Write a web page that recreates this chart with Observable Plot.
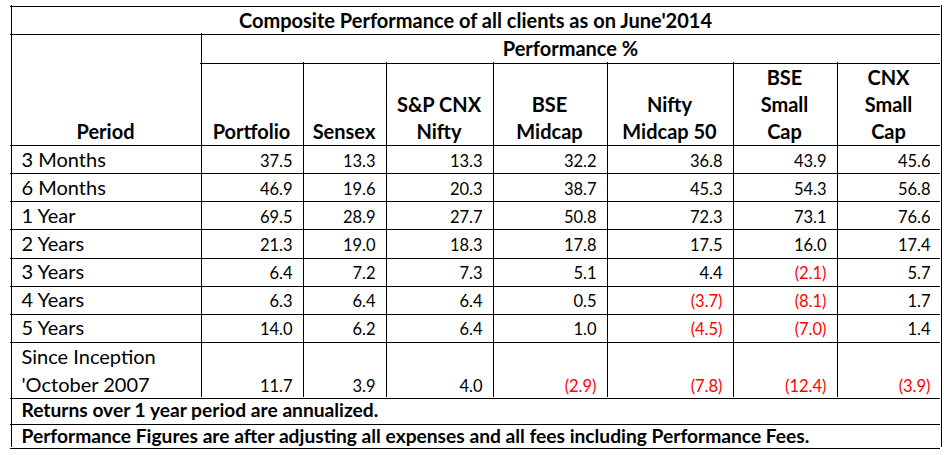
<!DOCTYPE html>
<html><head><meta charset="utf-8">
<script src="https://cdn.jsdelivr.net/npm/d3@7"></script>
<script src="https://cdn.jsdelivr.net/npm/@observablehq/plot@0.6"></script>
<style>body{margin:0;background:#fff}</style>
</head><body><div id="chart"></div>
<script>
// ---------- data ----------
const title = "Composite Performance of all clients as on June'2014";
const groupLabel = "Performance %";
const periodHeader = "Period";
const periods = ["3 Months", "6 Months", "1 Year", "2 Years", "3 Years", "4 Years", "5 Years", "Since Inception\n'October 2007"];
const seriesNames = ["Portfolio", "Sensex", "S&P CNX\nNifty", "BSE\nMidcap", "Nifty\nMidcap 50", "BSE\nSmall\nCap", "CNX\nSmall\nCap"];
const portfolio     = [37.5, 46.9, 69.5, 21.3, 6.4, 6.3, 14.0, 11.7];
const sensex        = [13.3, 19.6, 28.9, 19.0, 7.2, 6.4, 6.2, 3.9];
const cnxNifty      = [13.3, 20.3, 27.7, 18.3, 7.3, 6.4, 6.4, 4.0];
const bseMidcap     = [32.2, 38.7, 50.8, 17.8, 5.1, 0.5, 1.0, -2.9];
const niftyMidcap50 = [36.8, 45.3, 72.3, 17.5, 4.4, -3.7, -4.5, -7.8];
const bseSmallCap   = [43.9, 54.3, 73.1, 16.0, -2.1, -8.1, -7.0, -12.4];
const cnxSmallCap   = [45.6, 56.8, 76.6, 17.4, 5.7, 1.7, 1.4, -3.9];
const notes = ["Returns over 1 year period are annualized.",
               "Performance Figures are after adjusting all expenses and all fees including Performance Fees."];

// ---------- layout ----------
const FONT = "Lato";
const FS_LABEL = 20, FS_NUM = 16.5, FS_NOTE = 19.2;
const colEdges = [10, 200, 302, 385, 492, 606, 732, 836, 940];
const topY = 5, titleB = 33, groupB = 62, headB = 144, rowH = 28.14, lastRowB = 397, note1B = 423, note2B = 447;
const series = [portfolio, sensex, cnxNifty, bseMidcap, niftyMidcap50, bseSmallCap, cnxSmallCap];
const rowBottom = i => i < periods.length - 1 ? headB + rowH * (i + 1) : lastRowB;
const px = v => Math.round(v) + 0.5;

// build tables
const cells = [];
series.forEach((vals, c) => vals.forEach((v, r) => cells.push({c, r, v})));
const periodRows = periods.map((p, r) => ({p, r}));
const headers = seriesNames.map((s, c) => ({s, c}));

// grid lines
const hLines = [];
[topY, titleB, headB].forEach(y => hLines.push({y, x1: colEdges[0], x2: colEdges[8]}));
hLines.push({y: groupB, x1: colEdges[1], x2: colEdges[8]});
periods.forEach((_, r) => hLines.push({y: rowBottom(r), x1: colEdges[0], x2: colEdges[8]}));
[note1B, note2B].forEach(y => hLines.push({y, x1: colEdges[0], x2: colEdges[8]}));
const vLines = [];
vLines.push({x: colEdges[0], y1: topY, y2: note2B});
vLines.push({x: colEdges[8], y1: topY, y2: note2B});
vLines.push({x: colEdges[1], y1: titleB, y2: lastRowB});
colEdges.slice(2, 8).forEach(x => vLines.push({x, y1: groupB, y2: lastRowB}));

const fmt = v => v < 0 ? `(${Math.abs(v).toFixed(1)})` : v.toFixed(1);

const plot = Plot.plot({
  width: 952, height: 455, margin: 0, axis: null,
  x: {type: "identity"}, y: {type: "identity"},
  style: {fontFamily: FONT, fontSize: FS_LABEL + "px", background: "#fff"},
  marks: [
    Plot.ruleY(hLines, {y: d => px(d.y), x1: d => d.x1, x2: d => d.x2, stroke: "#000", strokeWidth: 1, shapeRendering: "crispEdges"}),
    Plot.ruleX(vLines, {x: d => px(d.x), y1: d => d.y1, y2: d => d.y2, stroke: "#000", strokeWidth: 1, shapeRendering: "crispEdges"}),
    Plot.text([title], {x: (colEdges[0] + colEdges[8]) / 2, y: titleB - 6, text: d => d, lineAnchor: "bottom", fontSize: FS_LABEL, fontWeight: "bold", fill: "#000"}),
    Plot.text([groupLabel], {x: (colEdges[1] + colEdges[8]) / 2, y: groupB - 7, text: d => d, lineAnchor: "bottom", fontSize: FS_LABEL, fontWeight: "bold", fill: "#000"}),
    Plot.text([periodHeader], {x: (colEdges[0] + colEdges[1]) / 2, y: headB - 6, text: d => d, lineAnchor: "bottom", fontSize: FS_LABEL, fontWeight: "bold", fill: "#000"}),
    Plot.text(headers, {x: d => (colEdges[d.c + 1] + colEdges[d.c + 2]) / 2, y: headB - 6, text: "s", lineAnchor: "bottom", lineHeight: 27 / FS_LABEL, fontSize: FS_LABEL, fontWeight: "bold", fill: "#000"}),
    Plot.text(periodRows, {x: colEdges[0] + 11, y: d => rowBottom(d.r) - 6, text: "p", textAnchor: "start", lineAnchor: "bottom", lineHeight: 28 / FS_LABEL, fontSize: FS_LABEL, fill: "#000"}),
    Plot.text(cells, {x: d => colEdges[d.c + 2] - 10, y: d => rowBottom(d.r) - 6, text: d => fmt(d.v), textAnchor: "end", lineAnchor: "bottom", fontSize: FS_NUM, fill: d => d.v < 0 ? "#ff0000" : "#000"}),
    Plot.text(notes, {x: colEdges[0] + 11, y: (d, i) => (i === 0 ? note1B - 7 : note2B - 5), text: d => d, textAnchor: "start", lineAnchor: "bottom", fontSize: FS_NOTE, fontWeight: "bold", fill: "#000"})
  ]
});
document.getElementById("chart").appendChild(plot);
</script>
</body></html>
